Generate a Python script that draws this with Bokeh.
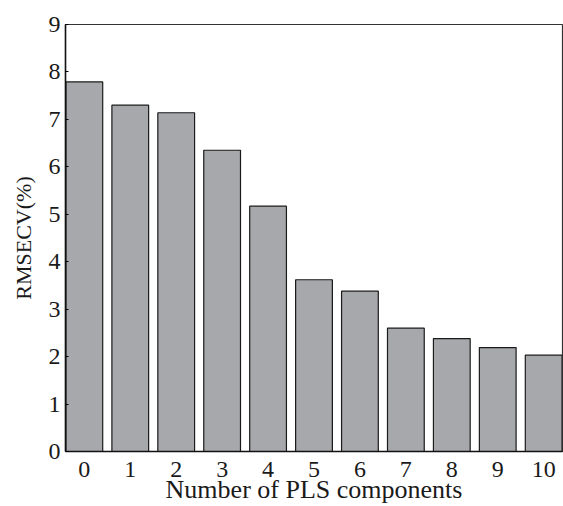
from bokeh.plotting import figure
from bokeh.models import Range1d, FixedTicker, ColumnDataSource
from bokeh.embed import file_html
from bokeh.resources import INLINE

components = [0, 1, 2, 3, 4, 5, 6, 7, 8, 9, 10]
rmsecv = [7.79, 7.30, 7.14, 6.35, 5.17, 3.62, 3.38, 2.60, 2.38, 2.19, 2.03]
y_ticks = [0, 1, 2, 3, 4, 5, 6, 7, 8, 9]

FONT = "Liberation Serif"

p = figure(width=563, height=506, output_backend="svg", toolbar_location=None,
           x_range=Range1d(-0.41, 10.41), y_range=Range1d(0, 9),
           min_border_left=65, min_border_right=1, min_border_top=24, min_border_bottom=54)

src = ColumnDataSource(dict(x=components, top=rmsecv))
p.vbar(x="x", top="top", bottom=0, width=0.8, source=src,
       fill_color="#a7a8ac", line_color="#1a1a1a", line_width=1.2)

p.xgrid.visible = False
p.ygrid.visible = False
p.outline_line_color = "#333333"
p.outline_line_width = 1.2

p.xaxis.ticker = FixedTicker(ticks=components)
p.yaxis.ticker = FixedTicker(ticks=y_ticks)
p.xaxis.minor_tick_line_color = None
p.yaxis.minor_tick_line_color = None
p.xaxis.major_tick_line_color = None
p.yaxis.major_tick_in = 3
p.yaxis.major_tick_out = 0
p.axis.axis_line_color = "#111111"
p.axis.axis_line_width = 1.5

for ax in (p.xaxis[0], p.yaxis[0]):
    ax.major_label_text_font = FONT
    ax.major_label_text_font_size = "24px"
    ax.major_label_text_color = "#1a1a1a"
    ax.axis_label_text_font = FONT
    ax.axis_label_text_font_style = "normal"
    ax.axis_label_text_color = "#1a1a1a"

p.xaxis.axis_label = "Number of PLS components"
p.xaxis.axis_label_text_font_size = "26px"
p.xaxis.major_label_standoff = 4
p.xaxis.axis_label_standoff = -5
p.yaxis.axis_label = "RMSECV(%)"
p.yaxis.axis_label_text_font_size = "22px"
p.yaxis.major_label_standoff = 5
p.yaxis.axis_label_standoff = 10

open("out.html", "w").write(file_html(p, INLINE))
